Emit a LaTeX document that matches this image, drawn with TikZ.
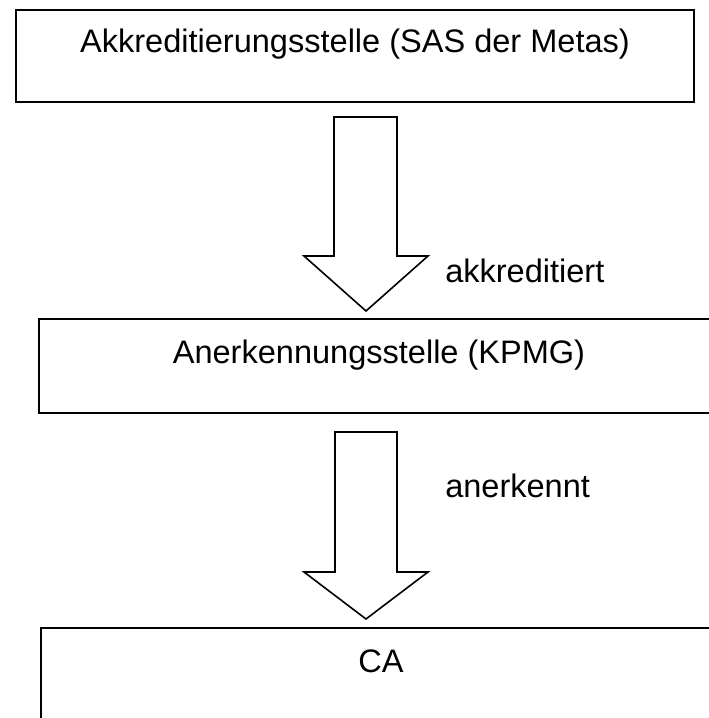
\documentclass[tikz,border=0pt]{standalone}
\usepackage{fontspec}
\setmainfont{Liberation Sans}
\begin{document}
\begin{tikzpicture}[x=0.75pt,y=-0.75pt,
  box/.style={draw, line width=1.8pt, inner sep=0pt, outer sep=0pt},
  blockarrow/.style={draw, line width=1.2pt, fill=white, line join=miter},
  txt/.style={font=\fontsize{24.4pt}{29pt}\selectfont, anchor=base, inner sep=0pt},
  lbl/.style={txt, anchor=base west}]
\useasboundingbox (0,0) rectangle (709,718);
\clip (0,0) rectangle (709,718);
\fill[white] (0,0) rectangle (709,718);

% boxes
\node[box, minimum width=508.5pt, minimum height=69pt] (b1) at (355,56) {};
\node[box, minimum width=510pt, minimum height=70.5pt] (b2) at (379,366) {};
\node[box, minimum width=510pt, minimum height=70.5pt] (b3) at (381,675) {};

% box texts
\node[txt] (t1) at (355,52) {Akkreditierungsstelle (SAS der Metas)};
\node[txt] (t2) at (379,363) {Anerkennungsstelle (KPMG)};
\node[txt] (t3) at (381,672) {CA};

% block arrows
\draw[blockarrow] (334,117) -- (397,117) -- (397,256) -- (428,256) -- (366,311) -- (304,256) -- (334,256) -- cycle;
\draw[blockarrow] (335,432) -- (397,432) -- (397,572) -- (428,572) -- (366,619) -- (304,572) -- (335,572) -- cycle;

% labels
\node[lbl] (l1) at (445,282) {akkreditiert};
\node[lbl] (l2) at (445,497) {anerkennt};
\end{tikzpicture}
\end{document}
